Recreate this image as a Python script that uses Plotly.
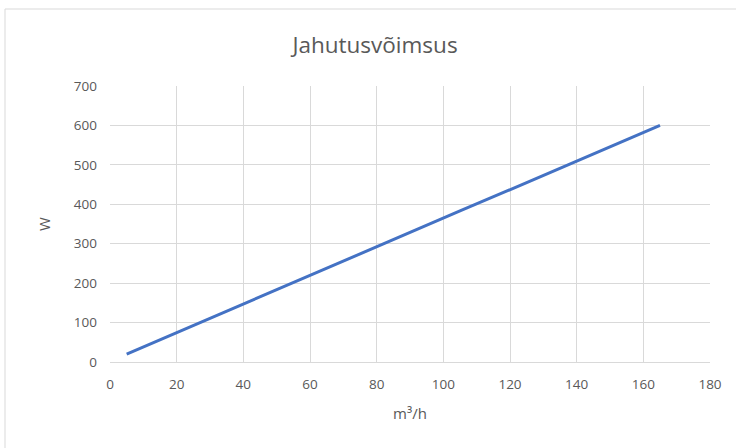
import plotly.graph_objects as go

flow = [5, 25, 45, 65, 85, 105, 125, 145, 165]
power = [20, 93, 165, 238, 310, 383, 455, 528, 600]

x_ticks = [0, 20, 40, 60, 80, 100, 120, 140, 160, 180]
y_ticks = [0, 100, 200, 300, 400, 500, 600, 700]

W, H = 736, 448
L, R, T, B = 110, 26, 86, 86

fig = go.Figure()
fig.add_trace(go.Scatter(x=flow, y=power, mode="lines",
                         line=dict(color="#4472c4", width=3)))

font_family = "Open Sans, Liberation Sans, sans-serif"
tick_font = dict(family=font_family, size=13.5, color="#595959")

pw = W - L - R
ph = H - T - B
fig.update_layout(
    width=W, height=H,
    margin=dict(l=L, r=R, t=T, b=B),
    paper_bgcolor="white", plot_bgcolor="white",
    showlegend=False,
    title=dict(text="Jahutusvõimsus", x=375 / W, xref="container", xanchor="center",
               y=1 - 45 / H, yref="container", yanchor="middle",
               font=dict(family=font_family, size=22.5, color="#595959")),
    xaxis=dict(range=[0, 180], tickvals=x_ticks, showgrid=True, gridcolor="#d9d9d9",
               gridwidth=1, zeroline=False, showline=True, linecolor="#d9d9d9",
               mirror=False, ticks="", tickfont=tick_font, ticklabelstandoff=10,
               title=dict(text="m³/h", font=dict(family=font_family, size=15, color="#595959"),
                          standoff=16)),
    yaxis=dict(range=[0, 700], tickvals=y_ticks, showgrid=True, gridcolor="#d9d9d9",
               gridwidth=1, zeroline=False, showline=False, ticks="",
               tickfont=tick_font, ticklabelstandoff=12,
               title=dict(text="W", font=dict(family=font_family, size=15, color="#595959"),
                          standoff=19)),
    shapes=[
        dict(type="rect", xref="paper", yref="paper",
             x0=(5 - L) / pw, x1=(W + 10 - L) / pw,
             y0=-(B + 10) / ph,
             y1=(H - B - 9) / ph,
             line=dict(color="#d9d9d9", width=1), fillcolor="rgba(0,0,0,0)", layer="below"),
    ],
)

fig.write_html("out.html", config={"displayModeBar": False},
               post_script="document.body.style.margin='0';document.body.style.overflow='hidden';")
